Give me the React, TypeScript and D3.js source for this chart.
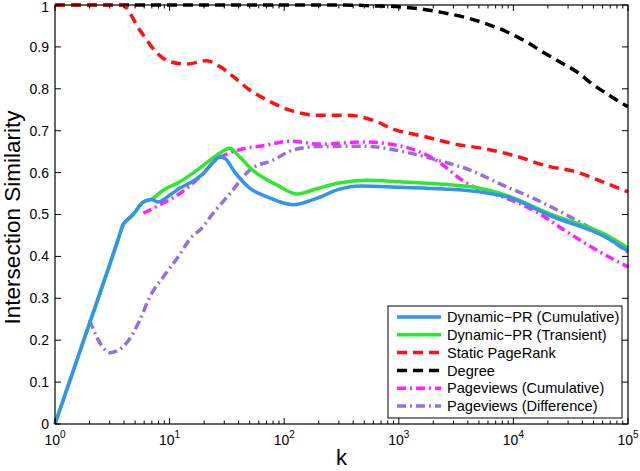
import React from "react";
import * as d3 from "d3";

type P = [number, number];

const dynCumulative: P[] = [[1,0],[2,0.24],[3,0.38],[3.6,0.445],[3.95,0.477],[4.2,0.485],[4.8,0.50],[5.9,0.53],[7,0.536],[7.9,0.53],[10,0.546],[12.3,0.563],[15,0.575],[19.6,0.597],[24,0.625],[27.5,0.637],[31,0.632],[36,0.606],[50,0.563],[71,0.542],[120,0.523],[190,0.538],[300,0.56],[460,0.568],[1020,0.565],[2500,0.561],[5100,0.554],[8800,0.542],[22000,0.495],[66000,0.444],[100000,0.413]];
const dynTransient: P[] = [[1,0],[2,0.24],[3,0.38],[3.6,0.445],[3.95,0.477],[4.2,0.485],[4.8,0.50],[5.9,0.53],[7,0.537],[8.8,0.558],[12.3,0.578],[18.4,0.611],[26,0.642],[33.6,0.658],[40,0.64],[53,0.606],[87,0.570],[130,0.549],[190,0.561],[300,0.575],[530,0.582],[1020,0.578],[2500,0.572],[5100,0.563],[7600,0.551],[22000,0.499],[66000,0.45],[100000,0.42]];
const staticPR: P[] = [[1,1],[3.84,1],[5.5,0.94],[7.8,0.885],[10,0.865],[14,0.859],[21,0.867],[27.5,0.853],[36,0.829],[50,0.797],[71,0.773],[112,0.749],[190,0.737],[360,0.737],[620,0.723],[890,0.704],[1620,0.687],[3400,0.666],[5100,0.659],[9700,0.642],[19600,0.616],[36000,0.601],[60000,0.578],[100000,0.554]];
const degree: P[] = [[1,1],[300,1],[600,0.998],[1100,0.995],[2300,0.983],[4600,0.964],[8900,0.935],[13000,0.912],[18000,0.888],[25500,0.864],[36000,0.84],[49000,0.811],[70000,0.783],[100000,0.757]];
const pvCumulative: P[] = [[5.9,0.503],[8.2,0.523],[12.3,0.55],[18.4,0.59],[26,0.632],[36,0.65],[71,0.666],[112,0.675],[204,0.668],[490,0.673],[1100,0.662],[1900,0.637],[4200,0.57],[8100,0.542],[16000,0.506],[27000,0.465],[60000,0.407],[100000,0.375]];
const pvDifference: P[] = [[2,0.248],[2.6,0.184],[3,0.17],[4.2,0.193],[5.5,0.248],[6.7,0.303],[8.8,0.351],[11.6,0.395],[16,0.45],[18.4,0.463],[24,0.503],[33.6,0.55],[50,0.606],[80,0.63],[120,0.654],[190,0.662],[490,0.663],[1100,0.65],[2150,0.63],[4200,0.606],[8100,0.57],[16000,0.535],[31000,0.495],[60000,0.451],[100000,0.41]];

const seriesNames = ["Dynamic\u2212PR (Cumulative)", "Dynamic\u2212PR (Transient)", "Static PageRank", "Degree", "Pageviews (Cumulative)", "Pageviews (Difference)"];
const yTicks = [0, 0.1, 0.2, 0.3, 0.4, 0.5, 0.6, 0.7, 0.8, 0.9, 1];
const yTickLabels = ["0", "0.1", "0.2", "0.3", "0.4", "0.5", "0.6", "0.7", "0.8", "0.9", "1"];
const xDecades = [0, 1, 2, 3, 4, 5];

const X0 = 55, X1 = 628, Y0 = 5, Y1 = 424;
const FONT = "'Liberation Sans', Arial, Helvetica, sans-serif";

const DASH = "10,6";
const DASHDOT = "9,4,2,4";

const styles = [
  { data: dynCumulative, color: "#3393ee", dash: "", w: 3.5 },
  { data: dynTransient, color: "#2ee82e", dash: "", w: 3.5 },
  { data: staticPR, color: "#ff1111", dash: DASH, w: 3.5 },
  { data: degree, color: "#000000", dash: DASH, w: 3.5 },
  { data: pvCumulative, color: "#ff22ff", dash: DASHDOT, w: 3.5 },
  { data: pvDifference, color: "#9370db", dash: DASHDOT, w: 3.5 },
];
const drawOrder = [3, 2, 5, 4, 1, 0];

export default function App() {
  const x = d3.scaleLog().domain([1, 1e5]).range([X0, X1]);
  const y = d3.scaleLinear().domain([0, 1]).range([Y1, Y0]);
  const line = d3.line<P>().x(d => x(d[0])).y(d => y(d[1])).curve(d3.curveMonotoneX);

  const minor: number[] = [];
  for (let e = 0; e < 5; e++) for (let m = 2; m <= 9; m++) minor.push(m * Math.pow(10, e));

  const legX = 388, legY = 306, legW = 234, legH = 112, rowY0 = 317, rowStep = 17.8;

  return (
    <svg width={640} height={471} style={{ position: "absolute", left: 0, top: 0, background: "#fff" }} fontFamily={FONT}>
      <rect x={0} y={0} width={640} height={471} fill="#fff" />
      {drawOrder.map(i => (
        <path key={i} d={line(styles[i].data) || ""} fill="none" stroke={styles[i].color} strokeWidth={styles[i].w} strokeDasharray={styles[i].dash || undefined} strokeLinejoin="round" />
      ))}
      <rect x={X0} y={Y0} width={X1 - X0} height={Y1 - Y0} fill="none" stroke="#000" strokeWidth={1.2} />
      {yTicks.map((t, i) => (
        <g key={"y" + i}>
          <line x1={X0} x2={X0 + 6} y1={y(t)} y2={y(t)} stroke="#000" strokeWidth={1} />
          <line x1={X1} x2={X1 - 6} y1={y(t)} y2={y(t)} stroke="#000" strokeWidth={1} />
          <text x={49} y={y(t) + (t === 1 ? 2 : 0)} dy="0.35em" textAnchor="end" fontSize={14} fill="#000">{yTickLabels[i]}</text>
        </g>
      ))}
      {xDecades.map(e => {
        const px = x(Math.pow(10, e));
        return (
          <g key={"x" + e}>
            <line x1={px} x2={px} y1={Y1} y2={Y1 - 6} stroke="#000" strokeWidth={1} />
            <line x1={px} x2={px} y1={Y0} y2={Y0 + 6} stroke="#000" strokeWidth={1} />
            <text x={px} y={445} textAnchor="middle" fontSize={14} fill="#000">
              10<tspan dy={-7} fontSize={10}>{e}</tspan>
            </text>
          </g>
        );
      })}
      {minor.map((m, i) => {
        const px = x(m);
        return (
          <g key={"m" + i}>
            <line x1={px} x2={px} y1={Y1} y2={Y1 - 3.5} stroke="#000" strokeWidth={1} />
            <line x1={px} x2={px} y1={Y0} y2={Y0 + 3.5} stroke="#000" strokeWidth={1} />
          </g>
        );
      })}
      <text x={(X0 + X1) / 2} y={465} textAnchor="middle" fontSize={22} fill="#000">k</text>
      <text transform={`translate(20,217.5) rotate(-90)`} textAnchor="middle" fontSize={22.5} fill="#000">Intersection Similarity</text>
      <rect x={legX} y={legY} width={legW} height={legH} fill="#fff" stroke="#000" strokeWidth={1} />
      {seriesNames.map((name, i) => {
        const ry = rowY0 + i * rowStep;
        return (
          <g key={"l" + i}>
            <line x1={397} x2={441} y1={ry} y2={ry} stroke={styles[i].color} strokeWidth={3.5} strokeDasharray={styles[i].dash || undefined} />
            <text x={447} y={ry} dy="0.36em" fontSize={14.6} fill="#000">{name}</text>
          </g>
        );
      })}
    </svg>
  );
}
